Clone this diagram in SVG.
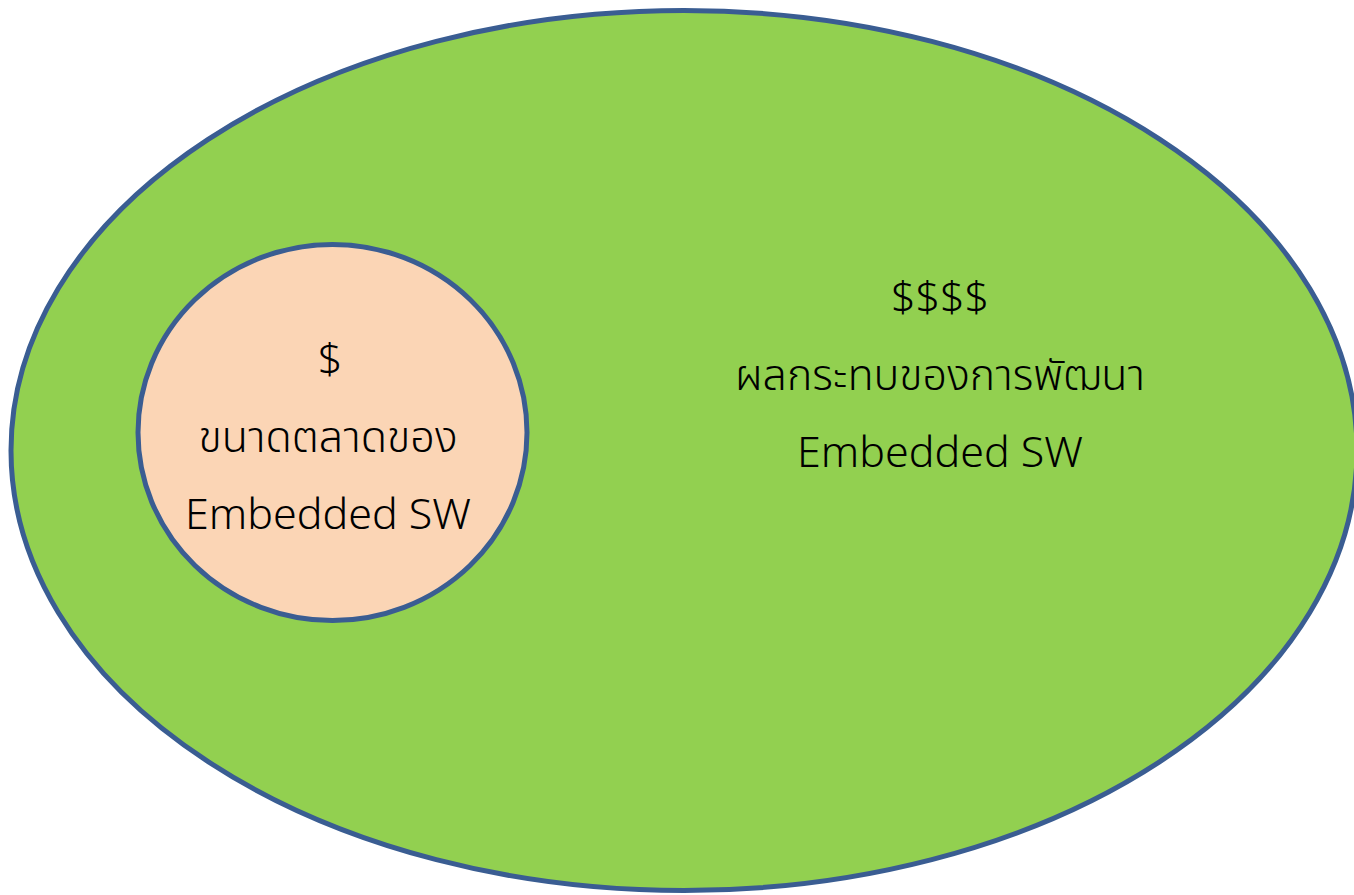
<svg xmlns="http://www.w3.org/2000/svg" width="1354" height="895" viewBox="0 0 1354 895">
<style>
.shape{stroke:#3A5D92;stroke-width:5}
.t{font-family:"Noto Sans Thai","Leelawadee UI","Noto Sans","Open Sans","DejaVu Sans",sans-serif;font-size:43px;fill:#000;text-anchor:middle;font-weight:300}
</style>
<rect width="1354" height="895" fill="#FFFFFF"/>
<g id="outer">
<ellipse class="shape" cx="684" cy="450.5" rx="673" ry="440" fill="#92D050"/>
<text class="t" x="940" y="312">$$$$</text>
<text class="t" x="940" y="390">ผลกระทบของการพัฒนา</text>
<text class="t" x="940" y="467">Embedded SW</text>
</g>
<g id="inner">
<ellipse class="shape" cx="332.5" cy="432.5" rx="194.5" ry="188" fill="#FBD5B5"/>
<text class="t" x="330" y="374">$</text>
<text class="t" x="328" y="452">ขนาดตลาดของ</text>
<text class="t" x="328" y="529">Embedded SW</text>
</g>
<g id="connectors"/>
</svg>
